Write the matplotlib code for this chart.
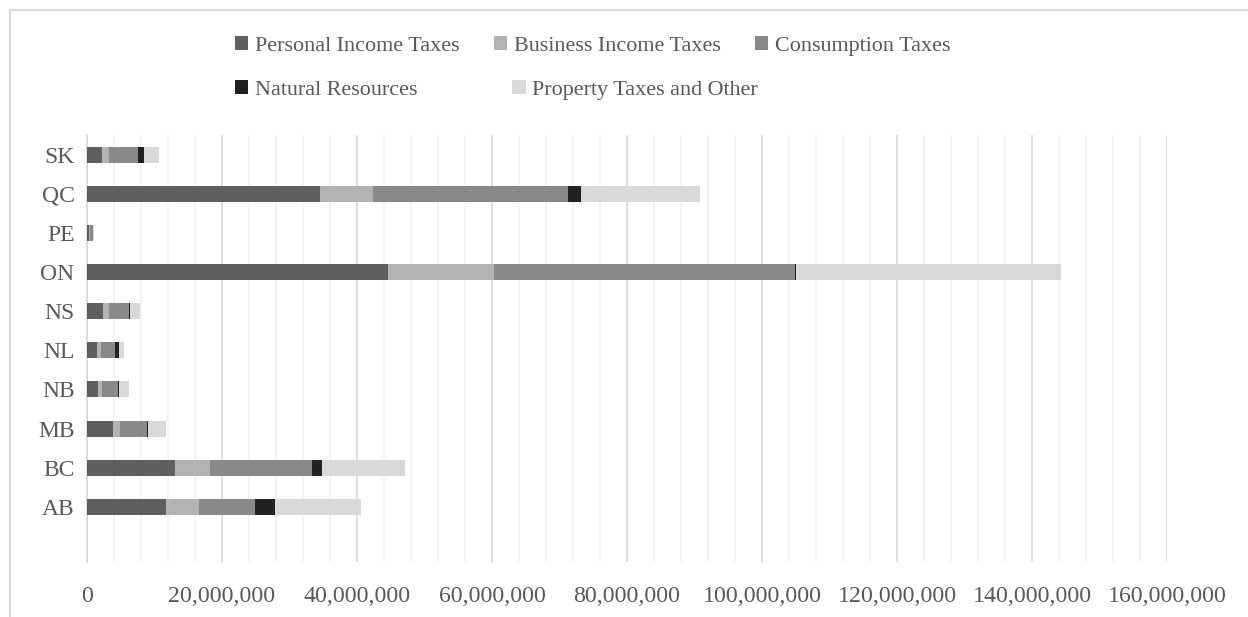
import matplotlib
matplotlib.use('Agg')
import matplotlib.pyplot as plt
from matplotlib.patches import Patch, Rectangle
from matplotlib.ticker import FuncFormatter, MultipleLocator

plt.rcParams['font.family'] = ['Liberation Serif', 'DejaVu Serif']

# ── data (dollars) ─────────────────────────────────────────────────────
provinces   = ['AB', 'BC', 'MB', 'NB', 'NL', 'NS', 'ON', 'PE', 'QC', 'SK']
personal    = [11700000, 13000000, 3850000, 1650000, 1500000, 2400000, 44600000, 330000, 34500000, 2200000]
business    = [4940000, 5230000, 1040000, 550000, 550000, 840000, 15700000, 70000, 7800000, 1100000]
consumption = [8300000, 15100000, 4050000, 2460000, 2100000, 2960000, 44600000, 500000, 29000000, 4250000]
natural     = [2920000, 1480000, 100000, 50000, 650000, 120000, 100000, 0, 1840000, 930000]
property_   = [12740000, 12250000, 2700000, 1440000, 650000, 1500000, 39300000, 100000, 17700000, 2200000]

series = [
    ('Personal Income Taxes', personal, '#5f5f5f'),
    ('Business Income Taxes', business, '#b3b3b3'),
    ('Consumption Taxes', consumption, '#898989'),
    ('Natural Resources', natural, '#222222'),
    ('Property Taxes and Other', property_, '#d9d9d9'),
]

W, H = 1248, 617
fig = plt.figure(figsize=(W / 100, H / 100), dpi=100)
ax = fig.add_axes([87 / W, 1 - 562 / H, (1167 - 87) / W, (562 - 135) / H])

ypos = list(range(len(provinces)))
left = [0] * len(provinces)
for name, vals, col in series:
    ax.barh(ypos, vals, left=left, height=0.41, color=col, linewidth=0, label=name, zorder=3)
    left = [l + v for l, v in zip(left, vals)]

ax.set_xlim(0, 160000000)
ax.set_ylim(-1.41, 9.5)
ax.set_yticks(ypos)
ax.set_yticklabels(provinces)
ax.xaxis.set_major_locator(MultipleLocator(20000000))
ax.xaxis.set_minor_locator(MultipleLocator(4000000))
ax.xaxis.set_major_formatter(FuncFormatter(lambda v, p: f'{v:,.0f}'))
ax.grid(True, which='minor', axis='x', color='#f2f2f2', linewidth=1.2, zorder=0)
ax.grid(True, which='major', axis='x', color='#d9d9d9', linewidth=1.2, zorder=1)
ax.tick_params(axis='x', which='both', length=0, pad=17, labelsize=17.2, labelcolor='#595959')
ax.tick_params(axis='y', length=0, pad=9, labelsize=17, labelcolor='#595959')
for s in ['top', 'right', 'bottom']:
    ax.spines[s].set_visible(False)
ax.spines['left'].set_color('#d9d9d9')
ax.spines['left'].set_linewidth(1.2)

# legend, two rows laid out like the original
handles = [Patch(facecolor=c, edgecolor='none', label=n) for n, _, c in series]
leg_kw = dict(frameon=False, fontsize=15.9, handlelength=0.6, handleheight=0.6,
              handletextpad=0.3, borderpad=0, borderaxespad=0, labelcolor='#595959')
leg1 = fig.legend(handles=handles[:3], loc='center left', ncol=3, columnspacing=1.55,
                  bbox_to_anchor=(235 / W, 1 - 46 / H), **leg_kw)
leg2 = fig.legend(handles=handles[3:], loc='center left', ncol=2, columnspacing=4.3,
                  bbox_to_anchor=(235 / W, 1 - 90 / H), **leg_kw)

# chart frame
fig.add_artist(Rectangle((10 / W, -0.1), 1.2, 1 - 10 / H + 0.1, transform=fig.transFigure,
                         fill=False, edgecolor='#d9d9d9', linewidth=1.5, clip_on=False))

fig.savefig('out.png', dpi=100)
